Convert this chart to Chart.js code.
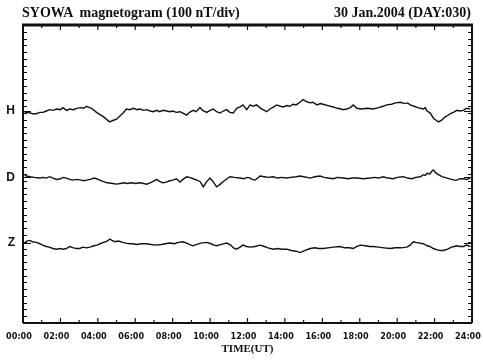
<!DOCTYPE html>
<html>
<head>
<meta charset="utf-8">
<script src="https://cdn.jsdelivr.net/npm/chart.js@4"></script>
<style>
  body { margin: 0; background: #fff; }
  #wrap { position: relative; width: 483px; height: 363px; }
  .ttl { position: absolute; top: 5px; font-family: 'Liberation Serif', serif; font-weight: bold; font-size: 14px; color: #111; white-space: pre; }
</style>
</head>
<body>
<div id="wrap">
  <canvas id="magChart" width="483" height="363"></canvas>
  <div class="ttl" style="left:22px">SYOWA  magnetogram (100 nT/div)</div>
  <div class="ttl" style="right:12px">30 Jan.2004 (DAY:030)</div>
</div>
<script>
// time in hours (UT), values in nT on a shared 0-440 nT stacked axis
const hTime = [0.09, 0.3, 0.5, 0.72, 0.9, 1.07, 1.25, 1.43, 1.6, 1.8, 2.0, 2.14, 2.32, 2.5, 2.7, 2.86, 3.1, 3.25, 3.39, 3.55, 3.66, 3.8, 3.93, 4.1, 4.28, 4.45, 4.64, 4.8, 5.0, 5.15, 5.35, 5.53, 5.7, 5.9, 6.1, 6.25, 6.45, 6.6, 6.8, 6.96, 7.15, 7.3, 7.5, 7.68, 7.85, 8.0, 8.2, 8.39, 8.55, 8.75, 8.9, 9.1, 9.25, 9.46, 9.6, 9.82, 10.0, 10.17, 10.35, 10.53, 10.7, 10.89, 11.05, 11.24, 11.42, 11.6, 11.76, 11.9, 11.96, 12.14, 12.3, 12.49, 12.65, 12.83, 13.03, 13.2, 13.4, 13.56, 13.75, 13.9, 14.1, 14.25, 14.44, 14.6, 14.8, 14.97, 15.15, 15.35, 15.5, 15.71, 15.9, 16.04, 16.3, 16.58, 16.8, 17.0, 17.11, 17.3, 17.5, 17.65, 17.85, 18.1, 18.4, 18.72, 19.0, 19.25, 19.45, 19.7, 19.9, 20.17, 20.4, 20.55, 20.7, 20.9, 21.1, 21.24, 21.4, 21.5, 21.6, 21.77, 21.95, 22.1, 22.2, 22.4, 22.55, 22.67, 22.85, 23.0, 23.2, 23.35, 23.54, 23.7, 23.91];
const hValues = [310, 311, 309, 309, 311, 311, 313, 315, 314, 316, 315, 318, 314, 316, 315, 317, 318, 317, 320, 318, 317, 314, 311, 308, 305, 301, 297, 299, 301, 305, 310, 316, 315, 317, 315, 316, 314, 315, 313, 312, 314, 312, 314, 313, 312, 313, 311, 312, 310, 307, 311, 314, 312, 318, 314, 311, 314, 316, 312, 310, 313, 315, 311, 310, 317, 319, 322, 317, 315, 322, 320, 322, 318, 315, 312, 316, 319, 322, 320, 319, 321, 320, 323, 322, 326, 330, 327, 325, 326, 322, 324, 323, 321, 319, 317, 316, 315, 316, 318, 322, 317, 316, 317, 316, 318, 320, 322, 323, 325, 326, 324, 325, 322, 320, 318, 317, 316, 318, 313, 310, 302, 299, 297, 300, 304, 306, 309, 311, 314, 313, 314, 317, 316];

const dTime = [0.09, 0.2, 0.36, 0.6, 0.89, 1.1, 1.25, 1.43, 1.6, 1.79, 2.0, 2.15, 2.32, 2.5, 2.66, 2.9, 3.1, 3.25, 3.39, 3.6, 3.8, 3.93, 4.1, 4.27, 4.5, 4.8, 5.0, 5.2, 5.4, 5.54, 5.8, 6.0, 6.25, 6.45, 6.61, 6.8, 7.0, 7.14, 7.3, 7.48, 7.65, 7.85, 8.0, 8.21, 8.39, 8.55, 8.75, 8.9, 9.1, 9.3, 9.46, 9.55, 9.64, 9.8, 9.99, 10.15, 10.35, 10.5, 10.71, 10.9, 11.07, 11.3, 11.6, 11.8, 12.0, 12.14, 12.25, 12.4, 12.55, 12.67, 12.9, 13.1, 13.37, 13.6, 13.85, 14.1, 14.3, 14.6, 14.81, 15.0, 15.2, 15.35, 15.6, 15.88, 16.1, 16.3, 16.58, 16.8, 17.11, 17.4, 17.6, 17.85, 18.2, 18.56, 18.8, 19.0, 19.26, 19.5, 19.79, 20.0, 20.33, 20.55, 20.79, 21.0, 21.24, 21.4, 21.5, 21.6, 21.75, 21.85, 21.94, 22.05, 22.2, 22.4, 22.67, 22.9, 23.05, 23.2, 23.35, 23.54, 23.7, 23.91];
const dValues = [218, 217, 216, 215, 214, 215, 214, 216, 214, 212, 213, 215, 214, 212, 211, 212, 211, 210, 211, 212, 214, 213, 211, 209, 207, 206, 205, 206, 207, 206, 207, 206, 207, 206, 205, 207, 210, 212, 209, 207, 208, 210, 211, 213, 208, 212, 216, 215, 213, 211, 209, 205, 201, 208, 214, 209, 201, 204, 209, 213, 216, 215, 214, 213, 215, 214, 212, 211, 214, 217, 216, 215, 216, 214, 215, 214, 215, 216, 217, 216, 215, 214, 216, 217, 215, 214, 213, 215, 214, 213, 214, 214, 213, 214, 215, 214, 216, 214, 213, 215, 216, 214, 213, 215, 216, 219, 218, 221, 220, 224, 226, 222, 219, 216, 214, 212, 211, 211, 213, 213, 212, 214];

const zTime = [0.09, 0.2, 0.36, 0.5, 0.72, 0.9, 1.05, 1.25, 1.4, 1.6, 1.79, 2.0, 2.15, 2.32, 2.5, 2.7, 2.85, 3.04, 3.2, 3.4, 3.57, 3.8, 3.95, 4.11, 4.3, 4.5, 4.64, 4.75, 4.91, 5.1, 5.34, 5.5, 5.7, 5.87, 6.1, 6.3, 6.61, 6.85, 7.14, 7.4, 7.6, 7.85, 8.1, 8.3, 8.55, 8.75, 8.9, 9.08, 9.3, 9.5, 9.82, 10.05, 10.2, 10.35, 10.6, 10.89, 11.1, 11.25, 11.42, 11.6, 11.76, 11.95, 12.14, 12.4, 12.67, 12.9, 13.1, 13.37, 13.6, 13.85, 14.1, 14.35, 14.6, 14.81, 15.05, 15.35, 15.6, 15.8, 16.04, 16.3, 16.6, 16.95, 17.2, 17.45, 17.65, 17.85, 18.03, 18.3, 18.5, 18.72, 19.0, 19.3, 19.63, 19.9, 20.2, 20.52, 20.7, 20.86, 21.0, 21.2, 21.4, 21.6, 21.75, 21.93, 22.15, 22.3, 22.47, 22.7, 22.9, 23.05, 23.2, 23.35, 23.54, 23.7, 23.91];
const zValues = [118, 121, 122, 120, 119, 117, 115, 113, 112, 110, 109, 110, 109, 110, 113, 111, 110, 110, 112, 111, 112, 114, 115, 117, 119, 121, 124, 122, 120, 121, 119, 118, 117, 117, 116, 117, 117, 116, 115, 116, 117, 118, 117, 119, 120, 118, 116, 114, 116, 118, 119, 117, 115, 114, 116, 118, 115, 111, 109, 112, 115, 113, 112, 113, 115, 113, 111, 109, 110, 109, 109, 107, 106, 104, 107, 110, 111, 110, 110, 111, 112, 113, 111, 111, 110, 113, 115, 114, 113, 113, 112, 111, 110, 111, 111, 112, 115, 120, 119, 118, 117, 114, 113, 110, 108, 107, 107, 109, 112, 113, 114, 113, 113, 115, 113];

const componentLabels = ['Z', 'D', 'H'];
const componentLevels = [118, 215, 313];
const hourTicks = [0, 2, 4, 6, 8, 10, 12, 14, 16, 18, 20, 22, 24];

const toPoints = (t, v) => t.map((x, i) => ({ x: x, y: v[i] }));

const trace = (label, t, v) => ({
  label: label,
  data: toPoints(t, v),
  borderColor: '#111',
  borderWidth: 1.4,
  pointRadius: 0,
  tension: 0,
  fill: false,
});

// inward tick marks + heavy frame, like the scanned plot
const framePlugin = {
  id: 'frame',
  afterDraw(chart) {
    const { ctx, chartArea: a, scales: { x, y } } = chart;
    ctx.save();
    ctx.strokeStyle = '#111';
    ctx.lineWidth = 1.2;
    ctx.beginPath();
    for (let h = 0; h <= 24; h++) {
      const px = x.getPixelForValue(h);
      const len = h % 2 === 0 ? 5 : 3;
      ctx.moveTo(px, a.bottom); ctx.lineTo(px, a.bottom - len);
      ctx.moveTo(px, a.top); ctx.lineTo(px, a.top + len);
    }
    for (let v = 0; v <= 440; v += 10) {
      const py = Math.round(y.getPixelForValue(v)) + 0.5;
      ctx.moveTo(a.left, py); ctx.lineTo(a.left + 4, py);
      ctx.moveTo(a.right, py); ctx.lineTo(a.right - 4, py);
    }
    componentLevels.forEach(v => {
      const py = Math.round(y.getPixelForValue(v)) + 0.5;
      ctx.moveTo(a.left, py); ctx.lineTo(a.left + 8, py);
      ctx.moveTo(a.right, py); ctx.lineTo(a.right - 8, py);
    });
    ctx.stroke();

    ctx.lineWidth = 3;
    ctx.beginPath();
    ctx.moveTo(a.left - 1, a.top); ctx.lineTo(a.right + 1, a.top);
    ctx.stroke();
    ctx.lineWidth = 2;
    ctx.beginPath();
    ctx.moveTo(a.left, a.top); ctx.lineTo(a.left, a.bottom);
    ctx.moveTo(a.right, a.top); ctx.lineTo(a.right, a.bottom);
    ctx.moveTo(a.left, a.bottom); ctx.lineTo(a.right, a.bottom);
    ctx.stroke();
    ctx.restore();
  }
};

new Chart(document.getElementById('magChart'), {
  type: 'line',
  data: {
    datasets: [
      trace('H', hTime, hValues),
      trace('D', dTime, dValues),
      trace('Z', zTime, zValues),
    ]
  },
  options: {
    responsive: false,
    devicePixelRatio: 1,
    animation: false,
    layout: { padding: { top: 25, right: 0, left: 0, bottom: 0 } },
    scales: {
      x: {
        type: 'linear',
        min: 0,
        max: 24,
        afterBuildTicks: (scale) => { scale.ticks = hourTicks.map(v => ({ value: v })); },
        afterFit: (scale) => { scale.height = 40; scale.paddingRight = 11; },
        grid: { display: false },
        border: { display: false },
        ticks: {
          autoSkip: false,
          maxRotation: 0,
          padding: 0,
          labelOffset: -4,
          callback: (v) => String(v).padStart(2, '0') + ':00',
          font: { family: "'Liberation Sans Narrow', 'DejaVu Sans Condensed', sans-serif", size: 9, weight: 'bold' },
          color: '#111',
        },
        title: {
          display: true,
          text: 'TIME(UT)',
          padding: { top: 0, bottom: 7 },
          font: { family: "'Liberation Serif', serif", size: 11, weight: 'bold' },
          color: '#111',
        },
      },
      y: {
        min: 0,
        max: 440,
        afterBuildTicks: (scale) => { scale.ticks = componentLevels.map(v => ({ value: v })); },
        afterFit: (scale) => { scale.width = 23; },
        grid: { display: false },
        border: { display: false },
        ticks: {
          padding: 0,
          callback: (v) => componentLabels[componentLevels.indexOf(v)],
          font: { family: "'Liberation Sans', sans-serif", size: 12, weight: 'bold' },
          color: '#111',
        },
      },
    },
    plugins: {
      legend: { display: false },
      tooltip: { enabled: false },
    },
  },
  plugins: [framePlugin],
});
</script>
</body>
</html>
